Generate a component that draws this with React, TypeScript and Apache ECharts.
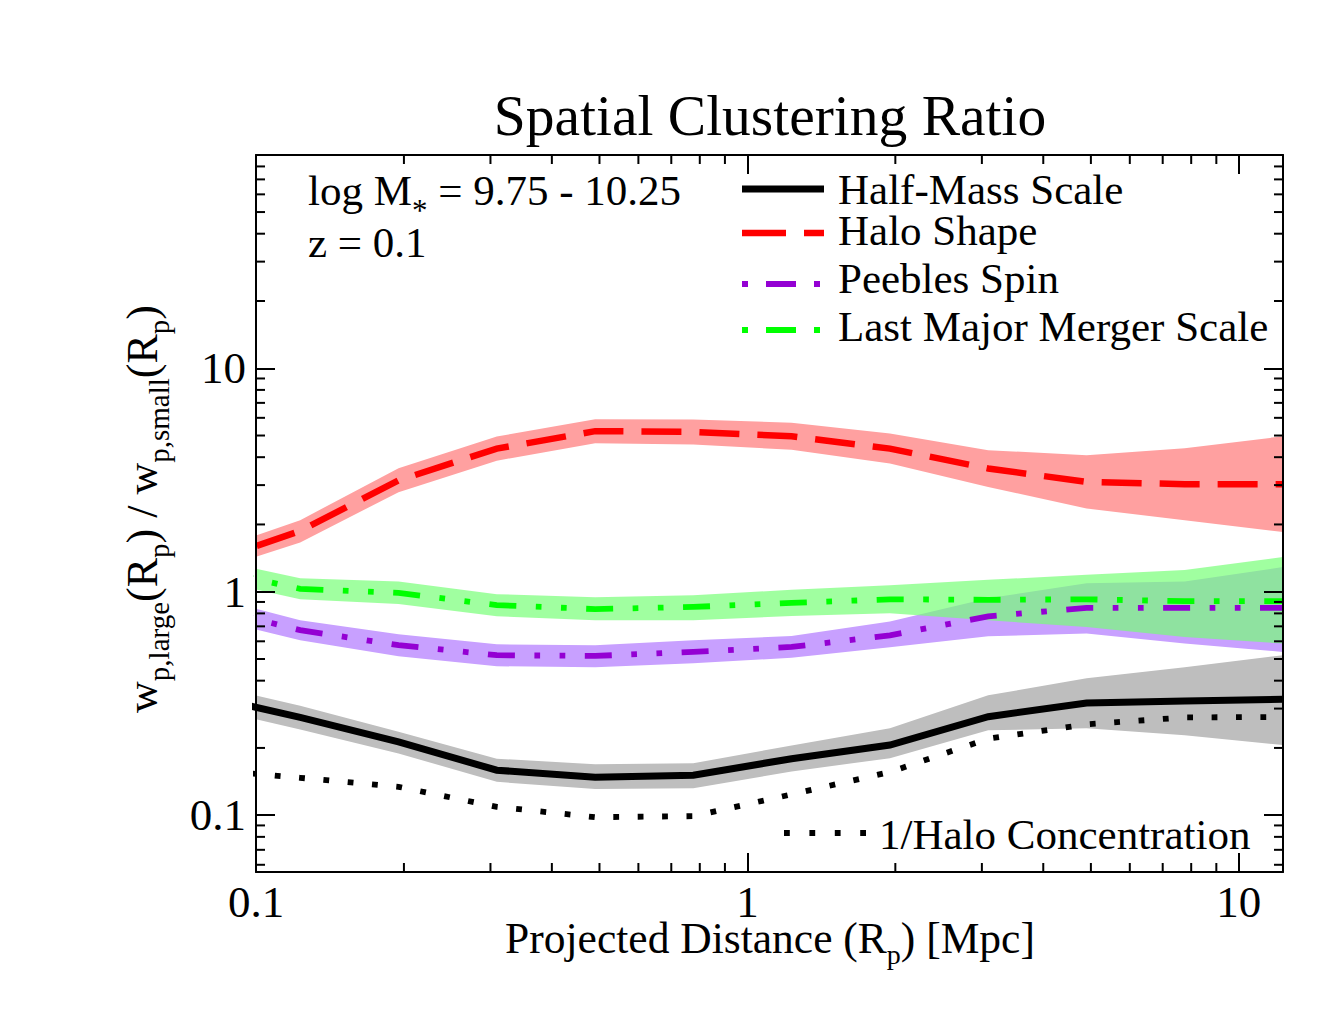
import React, { useEffect, useRef } from 'react';
import * as echarts from 'echarts';

// ---------- data ----------
const xValues = [0.0776, 0.123, 0.195, 0.309, 0.49, 0.776, 1.23, 1.95, 3.09, 4.9, 7.76, 12.3];

const halfMass = [0.345, 0.274, 0.213, 0.159, 0.148, 0.151, 0.179, 0.206, 0.276, 0.318, 0.324, 0.33];
const halfMassUpper = [0.391, 0.309, 0.236, 0.179, 0.169, 0.171, 0.205, 0.245, 0.344, 0.41, 0.459, 0.52];
const halfMassLower = [0.305, 0.242, 0.189, 0.141, 0.131, 0.132, 0.157, 0.18, 0.24, 0.245, 0.228, 0.206];

const haloShape = [1.32, 1.87, 3.15, 4.37, 5.23, 5.19, 4.96, 4.37, 3.56, 3.1, 3.03, 3.03];
const haloShapeUpper = [1.47, 2.09, 3.57, 4.95, 5.91, 5.9, 5.7, 5.1, 4.3, 4.08, 4.39, 4.96];
const haloShapeLower = [1.2, 1.66, 2.79, 3.86, 4.62, 4.56, 4.32, 3.75, 2.94, 2.36, 2.09, 1.85];

const peeblesSpin = [0.867, 0.673, 0.577, 0.52, 0.516, 0.538, 0.566, 0.638, 0.776, 0.847, 0.847, 0.847];
const peeblesSpinUpper = [0.972, 0.745, 0.646, 0.582, 0.576, 0.607, 0.634, 0.735, 0.935, 1.09, 1.11, 1.29];
const peeblesSpinLower = [0.774, 0.607, 0.514, 0.464, 0.459, 0.479, 0.506, 0.565, 0.632, 0.65, 0.586, 0.538];

const lastMajorMerger = [1.29, 1.03, 0.988, 0.871, 0.836, 0.855, 0.891, 0.925, 0.92, 0.925, 0.907, 0.907];
const lastMajorMergerUpper = [1.43, 1.15, 1.11, 0.975, 0.945, 0.965, 1.02, 1.07, 1.13, 1.19, 1.25, 1.43];
const lastMajorMergerLower = [1.16, 0.925, 0.882, 0.777, 0.745, 0.745, 0.779, 0.801, 0.745, 0.696, 0.628, 0.586];

const invHaloConcentration = [0.161, 0.147, 0.134, 0.109, 0.098, 0.099, 0.124, 0.156, 0.22, 0.255, 0.274, 0.275];

const legendLabels = ['Half-Mass Scale', 'Halo Shape', 'Peebles Spin', 'Last Major Merger Scale'];
const concentrationLabel = '1/Halo Concentration';

// axis ranges (log axes)
const X_MIN = 0.1;
const X_MAX = 12.3;
const Y_MIN = 0.0557;
const Y_MAX = 90;
const minorMultipliers = [2, 3, 4, 5, 6, 7, 8, 9];
const decades = [-2, -1, 0, 1];

// ---------- helpers ----------
const L = (v: number) => Math.log10(v);
const SERIF = 'Liberation Serif';

const minorTicks = (lo: number, hi: number) => {
  const out: number[] = [];
  decades.forEach((d) => {
    minorMultipliers.forEach((m) => {
      const v = m * Math.pow(10, d);
      if (v > lo * 1.0001 && v < hi * 0.9999) out.push(v);
    });
  });
  return out;
};

const tickFormatter = (v: number) => {
  const r = Math.round(v);
  if (Math.abs(v - r) > 1e-6) return '';
  const val = Math.pow(10, r);
  return r < 0 ? val.toFixed(-r) : String(val);
};

const pts = (ys: number[]) => xValues.map((x, i) => [L(x), L(ys[i])]);

const band = (name: string, upper: number[], lower: number[], fill: string, z: number) => ({
  name,
  type: 'custom',
  coordinateSystem: 'cartesian2d',
  clip: true,
  silent: true,
  z,
  encode: { x: 0, y: 1 },
  data: [[L(xValues[1]), L(upper[1])]],
  renderItem: (_p: any, api: any) => {
    const points: number[][] = [];
    xValues.forEach((x, i) => points.push(api.coord([L(x), L(upper[i])])));
    for (let i = xValues.length - 1; i >= 0; i--) points.push(api.coord([L(xValues[i]), L(lower[i])]));
    return { type: 'polygon', shape: { points }, style: { fill } };
  },
});

const line = (name: string, ys: number[], color: string, width: number, type: any, z: number) => ({
  name,
  type: 'line',
  data: pts(ys),
  symbol: 'none',
  clip: true,
  silent: true,
  z,
  lineStyle: { color, width, type, cap: 'butt', join: 'miter' },
});

const DASH_RED = [40, 18];
const DASH_DOT_DOT = [27, 19.5, 5.7, 19.5, 5.7, 19.5];
const DOTTED = [5.8, 18.6];

const axisCommon = {
  type: 'value',
  minInterval: 1,
  maxInterval: 1,
  z: 20,
  splitLine: { show: false },
  axisLine: { show: true, onZero: false, lineStyle: { color: '#000', width: 2 } },
  axisTick: { show: true, inside: true, length: 19, lineStyle: { color: '#000', width: 2 } },
};

const tickLabel = { fontFamily: SERIF, fontSize: 45, color: '#000', lineHeight: 36, formatter: tickFormatter };

const textEl = (x: number, y: number, text: string, size: number, align = 'left') => ({
  type: 'text',
  x,
  y,
  z: 30,
  style: { text, fontFamily: SERIF, fontSize: size, lineHeight: 36, fill: '#000', align, verticalAlign: 'middle' },
});

// rich text with subscripts: a sub token of tiny height sits at the bottom of the line,
// so its centre lies (lineH / 2 - 1) below the centre of the main text.
const richEl = (
  x: number, y: number, text: string, size: number, subSize: number, shift: number,
  align = 'center', rotation = 0,
) => {
  const lineH = 2 * shift + 2;
  return {
    type: 'text',
    x,
    y,
    rotation,
    z: 30,
    style: {
      text,
      fontFamily: SERIF,
      fontSize: size,
      fill: '#000',
      align,
      verticalAlign: 'middle',
      rich: {
        m: { fontFamily: SERIF, fontSize: size, fill: '#000', color: '#000', lineHeight: lineH, verticalAlign: 'middle' },
        s: { fontFamily: SERIF, fontSize: subSize, fill: '#000', color: '#000', height: 2, lineHeight: 2, verticalAlign: 'bottom' },
      },
    },
  };
};

const sample = (y: number, color: string, width: number, dash: any, x1 = 742, x2 = 824) => ({
  type: 'line',
  z: 30,
  shape: { x1, y1: y, x2, y2: y },
  style: { stroke: color, lineWidth: width, lineDash: dash, lineCap: 'butt' },
});

export default function App() {
  const ref = useRef<HTMLDivElement>(null);
  useEffect(() => {
    if (!ref.current) return;
    const chart = echarts.init(ref.current, undefined, { renderer: 'svg' });
    const xMinor = minorTicks(X_MIN, X_MAX);
    const yMinor = minorTicks(Y_MIN, Y_MAX);
    const option: any = {
      animation: false,
      backgroundColor: '#ffffff',
      grid: { left: 256, top: 155, width: 1027, height: 717 },
      xAxis: [
        { ...axisCommon, position: 'bottom', min: L(X_MIN), max: L(X_MAX), axisLabel: { ...tickLabel, margin: 12 } },
        { ...axisCommon, position: 'top', min: L(X_MIN), max: L(X_MAX), axisLabel: { show: false } },
      ],
      yAxis: [
        { ...axisCommon, position: 'left', min: L(Y_MIN), max: L(Y_MAX), axisLabel: { ...tickLabel, margin: 10 } },
        { ...axisCommon, position: 'right', min: L(Y_MIN), max: L(Y_MAX), axisLabel: { show: false } },
      ],
      series: [
        band('Halo Shape band', haloShapeUpper, haloShapeLower, '#ffa0a0', 1),
        band('Half-Mass Scale band', halfMassUpper, halfMassLower, '#bebebe', 1),
        band('Peebles Spin band', peeblesSpinUpper, peeblesSpinLower, '#c8a0ff', 2),
        band('Last Major Merger Scale band', lastMajorMergerUpper, lastMajorMergerLower, 'rgba(117,255,117,0.69)', 3),
        line('Half-Mass Scale', halfMass, '#000000', 7, 'solid', 5),
        line('1/Halo Concentration', invHaloConcentration, '#000000', 5.8, DOTTED, 5),
        line('Halo Shape', haloShape, '#ff0000', 6.5, DASH_RED, 6),
        line('Peebles Spin', peeblesSpin, '#9400d3', 5.8, DASH_DOT_DOT, 7),
        line('Last Major Merger Scale', lastMajorMerger, '#00ff00', 5.8, DASH_DOT_DOT, 8),
        {
          type: 'custom',
          coordinateSystem: 'cartesian2d',
          silent: true,
          z: 21,
          encode: { x: 0, y: 1 },
          data: xMinor.map((v) => [L(v), L(Y_MIN)]),
          renderItem: (_p: any, api: any) => {
            const v = api.value(0);
            const b = api.coord([v, L(Y_MIN)]);
            const t = api.coord([v, L(Y_MAX)]);
            const st = { stroke: '#000', lineWidth: 2 };
            return {
              type: 'group',
              children: [
                { type: 'line', shape: { x1: b[0], y1: b[1], x2: b[0], y2: b[1] - 9 }, style: st },
                { type: 'line', shape: { x1: t[0], y1: t[1], x2: t[0], y2: t[1] + 9 }, style: st },
              ],
            };
          },
        },
        {
          type: 'custom',
          coordinateSystem: 'cartesian2d',
          silent: true,
          z: 21,
          encode: { x: 0, y: 1 },
          data: yMinor.map((v) => [L(X_MIN), L(v)]),
          renderItem: (_p: any, api: any) => {
            const v = api.value(1);
            const l = api.coord([L(X_MIN), v]);
            const r = api.coord([L(X_MAX), v]);
            const st = { stroke: '#000', lineWidth: 2 };
            return {
              type: 'group',
              children: [
                { type: 'line', shape: { x1: l[0], y1: l[1], x2: l[0] + 9, y2: l[1] }, style: st },
                { type: 'line', shape: { x1: r[0], y1: r[1], x2: r[0] - 9, y2: r[1] }, style: st },
              ],
            };
          },
        },
      ],
      graphic: [
        textEl(770, 115, 'Spatial Clustering Ratio', 57.5, 'center'),
        richEl(308, 190.5, '{m|log M}{s|*}{m| = 9.75 - 10.25}', 43, 31, 20, 'left'),
        textEl(308, 242, 'z = 0.1', 43),
        sample(189, '#000000', 7, null),
        sample(233, '#ff0000', 6.5, [44, 18]),
        sample(284, '#9400d3', 5.8, [6, 18, 30, 18, 6, 18]),
        sample(330, '#00ff00', 5.8, [6, 18, 30, 18, 6, 18]),
        textEl(838, 189.5, legendLabels[0], 43),
        textEl(838, 230.5, legendLabels[1], 43),
        textEl(838, 278.5, legendLabels[2], 43),
        textEl(838, 326.5, legendLabels[3], 43),
        sample(833, '#000000', 5.8, [5.8, 19.6], 784, 866),
        textEl(879, 834, concentrationLabel, 43),
        richEl(770, 938, '{m|Projected Distance (R}{s|p}{m|) [Mpc]}', 43.5, 28, 16, 'center'),
        richEl(142, 509, '{m|w}{s|p,large}{m|(R}{s|p}{m|) / w}{s|p,small}{m|(R}{s|p}{m|)}', 44, 29, 17, 'center', Math.PI / 2),
      ],
    };
    chart.setOption(option);
    return () => chart.dispose();
  }, []);
  return <div ref={ref} style={{ position: 'fixed', left: 0, top: 0, width: 1329, height: 1027, background: '#fff' }} />;
}
